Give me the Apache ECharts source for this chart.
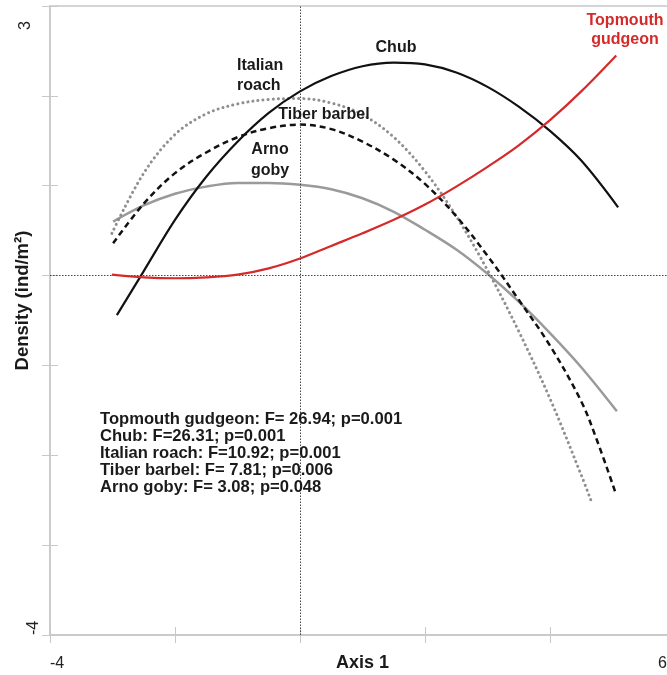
<!DOCTYPE html>
<html><head><meta charset="utf-8">
<script src="https://cdn.jsdelivr.net/npm/echarts@6/dist/echarts.min.js"></script>
<style>html,body{margin:0;padding:0;background:#fff}#c{width:667px;height:675px}</style>
</head><body><div id="c"></div>
<script>
// tick labels shown on the axes (only the ends are labelled)
const xTickLabels = ['-4', '6'];
const yTickLabels = ['-4', '3'];

// curves: [Axis 1, Density]
const chub = [[-2.93,-0.44],[-2.5,0.05],[-2.0,0.62],[-1.5,1.10],[-1.0,1.49],[-0.5,1.81],[0,2.05],[0.5,2.22],[1.0,2.33],[1.5,2.37],[2.0,2.35],[2.5,2.26],[3.0,2.10],[3.5,1.88],[4.0,1.61],[4.5,1.28],[5.09,0.76]];
const topmouth = [[-3.01,0.01],[-2.5,-0.02],[-2.0,-0.03],[-1.5,-0.02],[-1.0,0.01],[-0.5,0.08],[0,0.19],[0.5,0.33],[1.0,0.47],[1.5,0.62],[2.0,0.79],[2.5,0.99],[3.0,1.21],[3.5,1.45],[4.0,1.73],[4.5,2.05],[5.06,2.45]];
const roach = [[-3.01,0.47],[-2.5,1.14],[-2.0,1.57],[-1.5,1.80],[-1.0,1.91],[-0.5,1.96],[0,1.97],[0.5,1.92],[1.0,1.79],[1.5,1.54],[2.0,1.16],[2.5,0.66],[3.0,0.06],[3.5,-0.62],[4.0,-1.37],[4.5,-2.22],[4.67,-2.53]];
const tiber = [[-2.99,0.36],[-2.5,0.80],[-2.0,1.14],[-1.5,1.37],[-1.0,1.54],[-0.5,1.64],[0,1.68],[0.5,1.63],[1.0,1.49],[1.5,1.29],[2.0,1.02],[2.5,0.66],[3.0,0.22],[3.5,-0.27],[4.0,-0.78],[4.5,-1.40],[4.75,-1.83],[5.04,-2.40]];
const goby = [[-2.99,0.60],[-2.5,0.78],[-2.0,0.91],[-1.5,0.99],[-1.0,1.03],[-0.5,1.03],[0,1.01],[0.5,0.96],[1.0,0.86],[1.5,0.71],[2.0,0.51],[2.5,0.29],[3.0,0.02],[3.5,-0.29],[4.0,-0.64],[4.5,-1.02],[5.07,-1.51]];

const statsText = [
  'Topmouth gudgeon: F= 26.94; p=0.001',
  'Chub: F=26.31; p=0.001',
  'Italian roach: F=10.92; p=0.001',
  'Tiber barbel: F= 7.81; p=0.006',
  'Arno goby: F= 3.08; p=0.048'
];

const FONT = '"Liberation Sans", Arial, sans-serif';
const AXC = '#c8c8c8';

const chart = echarts.init(document.getElementById('c'), null, {renderer: 'canvas'});

function xFmt(v) {
  const s = String(v);
  if (xTickLabels.indexOf(s) < 0) return '';
  return s === xTickLabels[xTickLabels.length - 1] ? '{mx|' + s + '}' : s;
}
function yFmt(v) {
  const s = String(v);
  if (yTickLabels.indexOf(s) < 0) return '';
  return s === yTickLabels[yTickLabels.length - 1] ? '{my|' + s + '}' : s;
}

const baseX = {type: 'value', min: -4, max: 6, interval: 2, gridIndex: 0};
const baseY = {type: 'value', min: -4, max: 3, interval: 1, gridIndex: 0};

chart.setOption({
  animation: false,
  textStyle: {fontFamily: FONT},
  grid: {left: 50, top: 6, width: 625, height: 629, containLabel: false, outerBoundsMode: 'none',
    show: true, borderColor: AXC, borderWidth: 1.5, backgroundColor: 'transparent'},
  xAxis: [
    Object.assign({}, baseX, {
      position: 'bottom',
      axisLine: {show: true, onZero: false, lineStyle: {color: AXC, width: 1.5}},
      axisTick: {show: true, length: 8, lineStyle: {color: AXC, width: 1}},
      splitLine: {show: false},
      axisLabel: {show: true, formatter: xFmt, fontSize: 16, color: '#222', margin: 21,
        alignMinLabel: 'left', alignMaxLabel: 'right', showMinLabel: true, showMaxLabel: true,
        rich: {mx: {fontSize: 16, color: '#222', padding: [0, 8, 8, 0]}}},
      name: 'Axis 1', nameLocation: 'middle', nameGap: 19, nameMoveOverlap: false,
      nameTextStyle: {fontSize: 18, fontWeight: 'bold', color: '#1a1a1a', fontFamily: FONT}
    }),
    Object.assign({}, baseX, {
      position: 'bottom',
      axisLine: {show: false, onZero: false},
      axisTick: {show: true, inside: true, length: 8, lineStyle: {color: AXC, width: 1}},
      splitLine: {show: false}, axisLabel: {show: false}
    })
  ],
  yAxis: [
    Object.assign({}, baseY, {
      position: 'left',
      axisLine: {show: true, onZero: false, lineStyle: {color: AXC, width: 1.5}},
      axisTick: {show: true, length: 8, lineStyle: {color: AXC, width: 1}},
      splitLine: {show: false},
      axisLabel: {show: true, rotate: 90, formatter: yFmt, fontSize: 16, color: '#222', margin: 8,
        alignMinLabel: 'left', alignMaxLabel: 'right', showMinLabel: true, showMaxLabel: true,
        rich: {my: {fontSize: 16, color: '#222', padding: [0, 15, 8, 0]}}},
      name: 'Density (ind/m²)', nameLocation: 'middle', nameGap: 18, nameMoveOverlap: false,
      nameTextStyle: {fontSize: 18.5, fontWeight: 'bold', color: '#1a1a1a', fontFamily: FONT, padding: [0, 0, 0, 40]}
    }),
    Object.assign({}, baseY, {
      position: 'left',
      axisLine: {show: false, onZero: false},
      axisTick: {show: true, inside: true, length: 8, lineStyle: {color: AXC, width: 1}},
      splitLine: {show: false}, axisLabel: {show: false}
    })
  ],
  series: [
    {type: 'line', name: 'Arno goby', data: goby, smooth: 0.35, showSymbol: false, symbol: 'none',
      lineStyle: {color: '#9a9a9a', width: 2.5}, z: 3,
      markLine: {silent: true, symbol: 'none', label: {show: false},
        lineStyle: {color: '#444', type: [1.5, 1.5], width: 1},
        data: [{xAxis: 0}, {yAxis: 0}]}},
    {type: 'line', name: 'Italian roach', data: roach, smooth: 0.35, showSymbol: false, symbol: 'none',
      lineStyle: {color: '#8f8f8f', width: 3, type: [0.1, 5], cap: 'round'}, z: 3},
    {type: 'line', name: 'Tiber barbel', data: tiber, smooth: 0.35, showSymbol: false, symbol: 'none',
      lineStyle: {color: '#111', width: 2.5, type: [6, 4]}, z: 4},
    {type: 'line', name: 'Chub', data: chub, smooth: 0.35, showSymbol: false, symbol: 'none',
      lineStyle: {color: '#111', width: 2.2}, z: 5},
    {type: 'line', name: 'Topmouth gudgeon', data: topmouth, smooth: 0.35, showSymbol: false, symbol: 'none',
      lineStyle: {color: '#d42a2a', width: 2.2}, z: 6}
  ],
  graphic: [
    {type: 'text', x: 396, y: 48, z: 10, style: {text: 'Chub', font: 'bold 16px ' + FONT, fill: '#1a1a1a', align: 'center', verticalAlign: 'middle'}},
    {type: 'text', x: 625, y: 11, z: 10, style: {text: 'Topmouth\ngudgeon', font: 'bold 16px ' + FONT, fill: '#d42a2a', align: 'center', verticalAlign: 'top', lineHeight: 19}},
    {type: 'text', x: 237, y: 56, z: 10, style: {text: 'Italian\nroach', font: 'bold 16px ' + FONT, fill: '#1a1a1a', align: 'left', verticalAlign: 'top', lineHeight: 20}},
    {type: 'text', x: 324, y: 115, z: 10, style: {text: 'Tiber barbel', font: 'bold 16px ' + FONT, fill: '#1a1a1a', align: 'center', verticalAlign: 'middle'}},
    {type: 'text', x: 270, y: 139, z: 10, style: {text: 'Arno\ngoby', font: 'bold 16px ' + FONT, fill: '#1a1a1a', align: 'center', verticalAlign: 'top', lineHeight: 21}},
    {type: 'text', x: 100, y: 411, z: 10, style: {text: statsText.join('\n'), font: 'bold 16.6px ' + FONT, fill: '#1a1a1a', align: 'left', verticalAlign: 'top', lineHeight: 17}}
  ]
});
</script>
</body></html>
